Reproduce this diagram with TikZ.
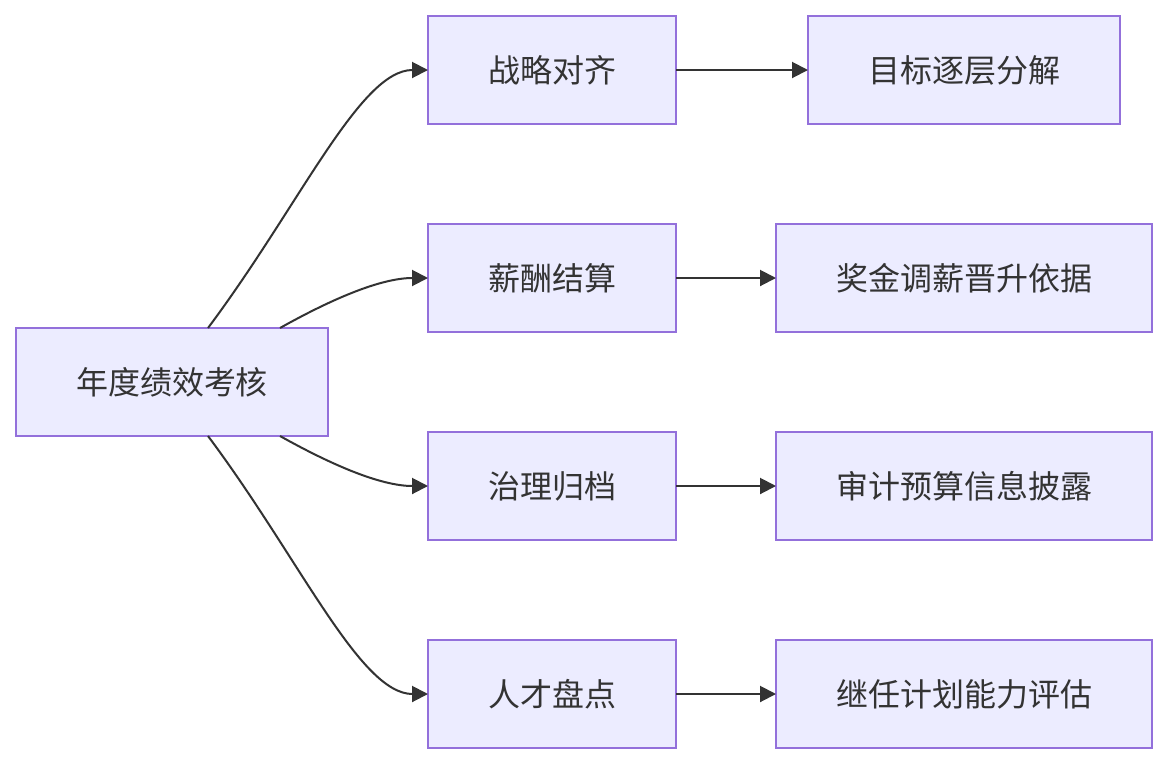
\documentclass[tikz,border=0pt]{standalone}
\usepackage{fontspec}
\newfontfamily\cjk{Noto Sans CJK SC}
\usetikzlibrary{arrows.meta}
\definecolor{boxfill}{HTML}{ECECFF}
\definecolor{boxline}{HTML}{9370DB}
\definecolor{ink}{HTML}{333333}
\begin{document}
\begin{tikzpicture}[x=1pt,y=-1pt,
  box/.style={draw=boxline,fill=boxfill,line width=2pt,rectangle,outer sep=0pt,
    minimum height=108pt,text=ink,font=\cjk\fontsize{32pt}{38pt}\selectfont,inner sep=0pt},
  narrow/.style={box,minimum width=248pt},
  mid/.style={box,minimum width=312pt},
  wide/.style={box,minimum width=376pt},
  link/.style={draw=ink,line width=2pt,-{Triangle[length=16pt,width=16pt]}}]
\useasboundingbox (0,0) rectangle (1168,764);
\fill[white] (0,0) rectangle (1168,764);
\node[mid] (root) at (172,382) {年度绩效考核};
\node[narrow] (a1) at (552,70) {战略对齐};
\node[mid] (b1) at (964,70) {目标逐层分解};
\node[narrow] (a2) at (552,278) {薪酬结算};
\node[wide] (b2) at (964,278) {奖金调薪晋升依据};
\node[narrow] (a3) at (552,486) {治理归档};
\node[wide] (b3) at (964,486) {审计预算信息披露};
\node[narrow] (a4) at (552,694) {人才盘点};
\node[wide] (b4) at (964,694) {继任计划能力评估};
\draw[link] ([xshift=36pt]root.north) .. controls (300,205) and (360,70) .. (a1.west);
\draw[link] ([xshift=108pt]root.north) .. controls (330,300) and (380,278) .. (a2.west);
\draw[link] ([xshift=108pt]root.south) .. controls (330,464) and (380,486) .. (a3.west);
\draw[link] ([xshift=36pt]root.south) .. controls (300,559) and (360,694) .. (a4.west);
\draw[link] (a1.east) -- (b1.west);
\draw[link] (a2.east) -- (b2.west);
\draw[link] (a3.east) -- (b3.west);
\draw[link] (a4.east) -- (b4.west);
\end{tikzpicture}
\end{document}
